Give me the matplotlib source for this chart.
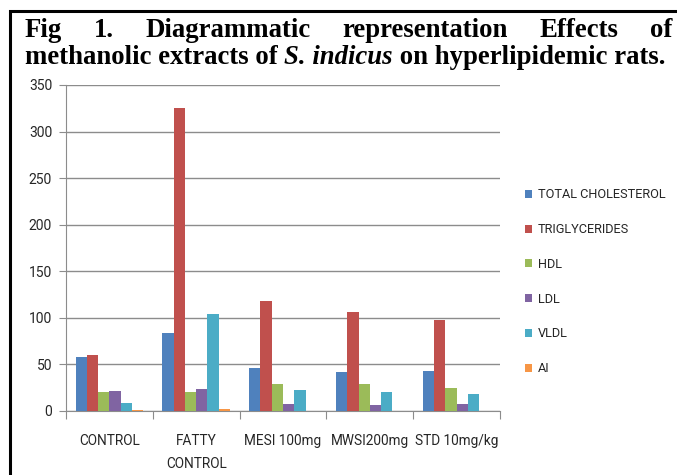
import matplotlib
matplotlib.use("Agg")
import matplotlib.pyplot as plt
import numpy as np
from matplotlib.patches import Rectangle, Patch

categories = ["CONTROL", "FATTY\nCONTROL", "MESI 100mg", "MWSI200mg", "STD 10mg/kg"]
series_names = ["TOTAL CHOLESTEROL", "TRIGLYCERIDES", "HDL", "LDL", "VLDL", "AI"]
total_cholesterol = [58.3, 83.4, 46.5, 41.5, 42.6]
triglycerides = [59.8, 325.0, 118.5, 106.3, 97.4]
hdl = [20.7, 20.7, 28.6, 28.6, 24.7]
ldl = [21.8, 23.6, 7.9, 6.8, 7.9]
vldl = [8.9, 104.0, 22.5, 20.7, 18.6]
ai = [1.0, 1.8, 0.0, 0.0, 0.0]
yticks = [0, 50, 100, 150, 200, 250, 300, 350]

colors = ["#4F81BD", "#C0504D", "#9BBB59", "#8064A2", "#4BACC6", "#F79646"]
series = [total_cholesterol, triglycerides, hdl, ldl, vldl, ai]
lfam = ["Roboto", "DejaVu Sans"]

W, H = 677, 475
fig = plt.figure(figsize=(W / 100, H / 100), dpi=100)
fig.patch.set_facecolor("white")

ax = fig.add_axes([66 / W, (H - 411) / H, (500 - 66) / W, (411 - 85) / H])
x = np.arange(len(categories))
bw = 0.13
for i, (vals, c) in enumerate(zip(series, colors)):
    ax.bar(x + (i - 2.5) * bw, vals, width=bw, color=c, zorder=3, linewidth=0)

ax.set_xlim(-0.5, len(categories) - 0.5)
ax.set_ylim(0, 350)
ax.set_yticks(yticks)
ax.set_yticklabels([str(v) for v in yticks])
ax.yaxis.grid(True, color="#8c8c8c", linewidth=1.0, zorder=0)
for s in ["top", "right"]:
    ax.spines[s].set_visible(False)
ax.spines["left"].set_color("#8c8c8c")
ax.spines["bottom"].set_color("#8c8c8c")
ax.tick_params(axis="y", length=5, color="#8c8c8c", labelsize=10, labelcolor="#262626", pad=5)
ax.set_xticks(np.arange(-0.5, len(categories), 1.0))
ax.set_xticklabels([])
ax.set_xticks(x, minor=True)
ax.set_xticklabels(categories, minor=True)
ax.tick_params(axis="x", which="major", length=6, color="#8c8c8c")
ax.tick_params(axis="x", which="minor", length=0, labelsize=9.8, labelcolor="#262626", pad=16.5)
for lbl in ax.get_yticklabels() + ax.get_xticklabels(minor=True):
    lbl.set_fontfamily(lfam)
    lbl.set_linespacing(1.85)

handles = [Patch(facecolor=c, edgecolor="none") for c in colors]
leg = fig.legend(handles, series_names, loc="upper left", bbox_to_anchor=(513 / W, 1 - 177 / H),
                 frameon=False, handlelength=0.6, handleheight=0.6, handletextpad=0.45,
                 labelspacing=1.7, prop={"family": lfam, "size": 9.2})
for t in leg.get_texts():
    t.set_color("#262626")

# border
fig.patches.append(Rectangle((10 / W, -0.1), 1.2, 1 + 0.1 - 11 / H, transform=fig.transFigure,
                             fill=False, edgecolor="black", linewidth=2.2))

# title, justified first line
renderer = fig.canvas.get_renderer()
tfont = dict(family="Liberation Serif", weight="bold", size=19.3)
line1 = ["Fig", "1.", "Diagrammatic", "representation", "Effects", "of"]
y1 = 1 - 37 / H
y2 = 1 - 64 / H
left, right = 25, 672
texts = [fig.text(0, y1, w, va="baseline", ha="left", **tfont) for w in line1]
widths = [t.get_window_extent(renderer).width for t in texts]
gap = (right - left - sum(widths)) / (len(line1) - 1)
pos = left
for t, w in zip(texts, widths):
    t.set_x(pos / W)
    pos += w + gap

parts = [("methanolic extracts of ", "normal"), ("S. indicus", "italic"), (" on hyperlipidemic rats.", "normal")]
pos = left
for s, st in parts:
    t = fig.text(pos / W, y2, s, va="baseline", ha="left", style=st, **tfont)
    pos += t.get_window_extent(renderer).width

fig.savefig("out.png", dpi=100)
